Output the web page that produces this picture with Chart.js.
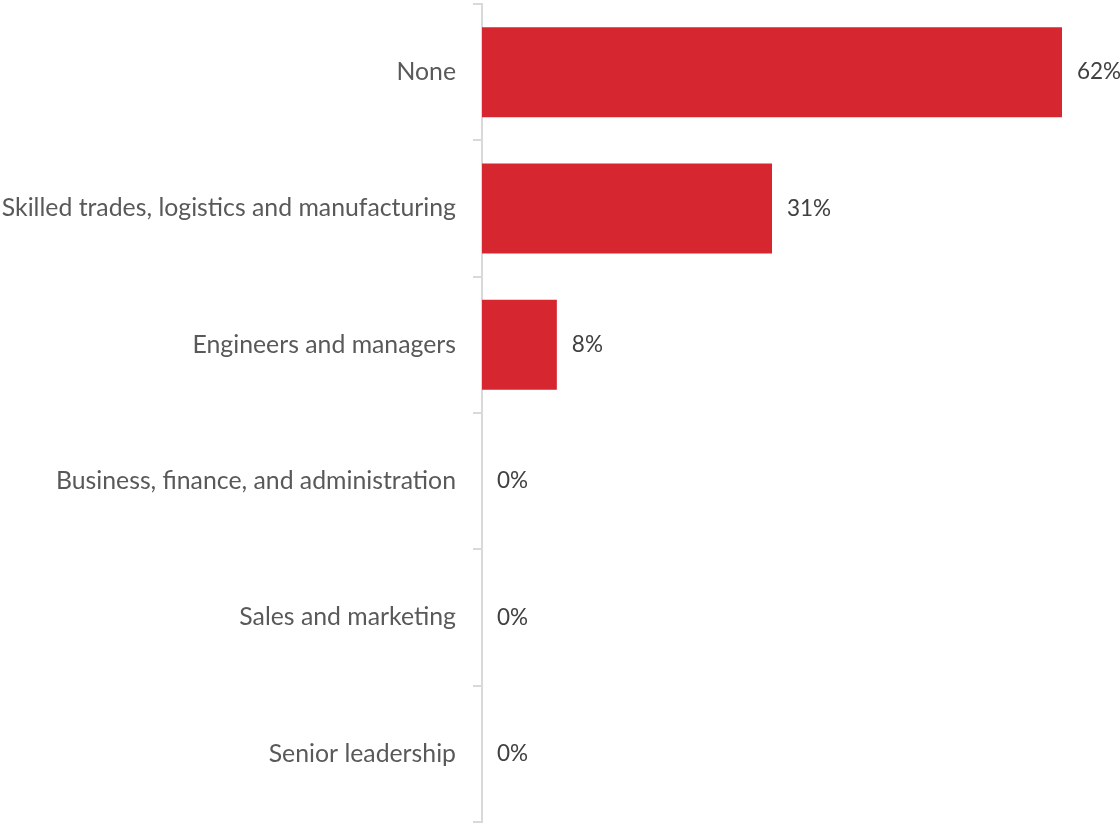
<!DOCTYPE html>
<html>
  <head>
    <title>Occupations</title>
    <script src="https://cdn.jsdelivr.net/npm/chart.js@4/dist/chart.umd.min.js"></script>
    <style>
    body{
    	margin: 0;
    	background-color: white;
    }
    .container{
    	width: 1120px;
    	height: 825px;
    }
  	</style>
  </head>
  <body>

    <div class='container'>
     	<canvas id="occupations"></canvas>
    </div>

  <script type="text/javascript">

  var categories = [
  	"None",
  	"Skilled trades, logistics and manufacturing",
  	"Engineers and managers",
  	"Business, finance, and administration",
  	"Sales and marketing",
  	"Senior leadership"
  ];
  var shares = [62, 31, 8, 0, 0, 0];

  var fontFamily = "Lato, 'Open Sans', sans-serif";

  // percentage written just past the end of each bar
  var valueLabels = {
  	id: 'valueLabels',
  	afterDatasetsDraw: function(chart){
  		var ctx = chart.ctx;
  		var meta = chart.getDatasetMeta(0);
  		ctx.save();
  		ctx.font = "22.5px " + fontFamily;
  		ctx.fillStyle = '#404040';
  		ctx.textAlign = 'left';
  		ctx.textBaseline = 'middle';
  		meta.data.forEach(function(bar, i){
  			ctx.fillText(shares[i] + '%', bar.x + 15, bar.y);
  		});
  		ctx.restore();
  	}
  };

  new Chart(document.getElementById("occupations"), {
  	type: 'bar',
  	data: {
  		labels: categories,
  		datasets: [{
  			data: shares,
  			backgroundColor: '#d62630',
  			borderWidth: 0,
  			categoryPercentage: 0.66,
  			barPercentage: 1
  		}]
  	},
  	options: {
  		indexAxis: 'y',
  		responsive: true,
  		maintainAspectRatio: false,
  		animation: false,
  		layout: { padding: { top: 4, bottom: 3, right: 58, left: 0 } },
  		plugins: {
  			legend: { display: false },
  			tooltip: { enabled: false }
  		},
  		scales: {
  			x: {
  				display: false,
  				min: 0,
  				max: 62
  			},
  			y: {
  				afterFit: function(scale){
  					// fixed label column, no extra room above/below the axis
  					scale.width = 482;
  					scale.paddingTop = 0;
  					scale.paddingBottom = 0;
  				},
  				border: { color: '#d9d9d9', width: 2 },
  				grid: {
  					drawOnChartArea: false,
  					drawTicks: true,
  					tickLength: 9,
  					color: '#d9d9d9',
  					lineWidth: 2
  				},
  				ticks: {
  					padding: 17,
  					color: '#595959',
  					font: { family: fontFamily, size: 24.8 }
  				}
  			}
  		}
  	},
  	plugins: [valueLabels]
  });

  </script>
  </body>
</html>
